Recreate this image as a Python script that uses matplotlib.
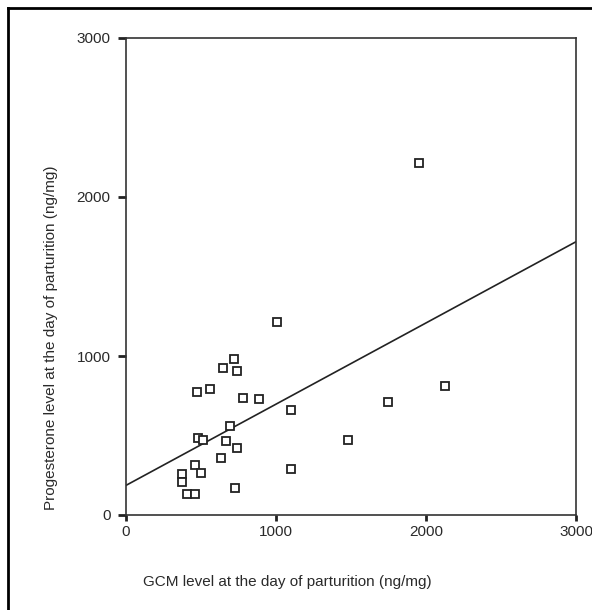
import matplotlib
matplotlib.use('Agg')
import matplotlib.pyplot as plt
from matplotlib.lines import Line2D
import numpy as np

# ── data ─────────────────────────────────────────────────────────────────────
gcm = [1951, 1009, 720, 644, 740, 471, 562, 780, 884, 1102, 696, 480, 513, 667,
       740, 1480, 633, 458, 500, 375, 375, 1102, 729, 409, 460, 2129, 1747]
progesterone = [2214, 1216, 981, 922, 904, 776, 794, 736, 727, 658, 560, 484, 474, 463,
                423, 474, 357, 316, 266, 258, 208, 287, 170, 130, 130, 813, 709]
ticks = [0, 1000, 2000, 3000]
xlabel = 'GCM level at the day of parturition (ng/mg)'
ylabel = 'Progesterone level at the day of parturition (ng/mg)'

W, H = 592, 610
plt.rcParams['font.family'] = ['Liberation Sans', 'DejaVu Sans']
fig = plt.figure(figsize=(W / 100, H / 100), dpi=100)

# axes box in pixel coords
x0, x1, y_top, y_bot = 126, 576, 38, 515
ax = fig.add_axes([x0 / W, (H - y_bot) / H, (x1 - x0) / W, (y_bot - y_top) / H])

# ── fit line ──
slope, intercept = np.polyfit(gcm, progesterone, 1)
xs = np.array([0, 3000])
ax.plot(xs, intercept + slope * xs, color='#222222', linewidth=1.2, zorder=2)

# ── points ──
ax.plot(gcm, progesterone, linestyle='none', marker='s', markersize=5.5,
        markerfacecolor='white', markeredgecolor='#222222', markeredgewidth=1.3,
        zorder=3)

ax.set_xlim(0, 3000)
ax.set_ylim(0, 3000)
ax.set_xticks(ticks)
ax.set_yticks(ticks)
ax.set_xticklabels([str(t) for t in ticks])
ax.set_yticklabels([str(t) for t in ticks])
ax.tick_params(direction='out', length=4, width=2, color='#222222',
               labelsize=11, labelcolor='#2a2a2a')
ax.tick_params(axis='y', length=6, pad=5)
ax.tick_params(axis='x', pad=3)
for sp in ax.spines.values():
    sp.set_linewidth(1.2)
    sp.set_color('#333333')

# ── labels ──
fig.text(143 / W, 1 - 582 / H, xlabel, ha='left', va='center',
         fontsize=11, color='#2a2a2a')
fig.text(51 / W, 1 - 338 / H, ylabel, ha='center', va='center',
         rotation=90, fontsize=11, color='#2a2a2a')

# ── partial outer frame (top + left) ──
fig.add_artist(Line2D([8 / W, 1], [1 - 8 / H, 1 - 8 / H], color='black',
                      linewidth=2, transform=fig.transFigure))
fig.add_artist(Line2D([8 / W, 8 / W], [0, 1 - 8 / H], color='black',
                      linewidth=2, transform=fig.transFigure))

fig.savefig('out.png', dpi=100)
